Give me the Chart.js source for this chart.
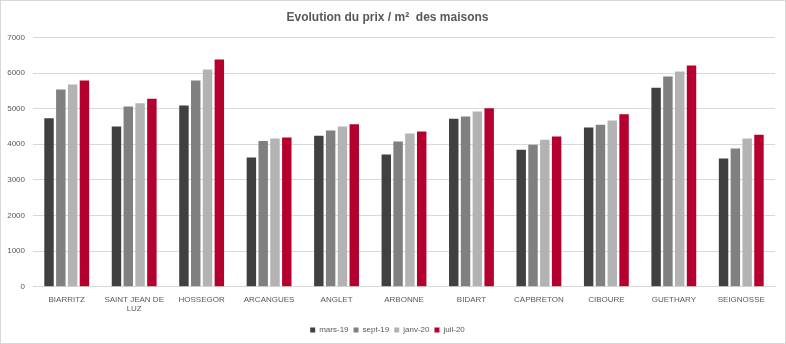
<!DOCTYPE html>
<html>
<head>
<meta charset="utf-8">
<script src="https://cdn.jsdelivr.net/npm/chart.js@4.4.1/dist/chart.umd.min.js"></script>
<style>
  html, body { margin: 0; padding: 0; background: #fff; }
  #wrap { width: 786px; height: 344px; }
</style>
</head>
<body>
<div id="wrap"><canvas id="myChart" width="786" height="344"></canvas></div>
<script>
// villes
const categories = ['BIARRITZ', ['SAINT JEAN DE', 'LUZ'], 'HOSSEGOR', 'ARCANGUES', 'ANGLET', 'ARBONNE',
  'BIDART', 'CAPBRETON', 'CIBOURE', 'GUETHARY', 'SEIGNOSSE']
const periods = ['mars-19', 'sept-19', 'janv-20', 'juil-20']

// prix au m2
const mars19 = [4730, 4500, 5090, 3630, 4240, 3710, 4720, 3850, 4470, 5590, 3600]
const sept19 = [5540, 5060, 5790, 4090, 4390, 4080, 4780, 3990, 4550, 5900, 3880]
const janv20 = [5680, 5150, 6100, 4160, 4500, 4300, 4920, 4130, 4670, 6040, 4160]
const juil20 = [5790, 5280, 6380, 4190, 4560, 4360, 5010, 4220, 4840, 6210, 4270]

const yTicks = [0, 1000, 2000, 3000, 4000, 5000, 6000, 7000]

const colors = ['#404040', '#808080', '#b3b3b3', '#b5002f']
const txt = '#595959'
const font = "'Liberation Sans', Arial, sans-serif"

const frame = {
  id: 'frame',
  beforeDraw(chart) {
    const c = chart.ctx
    c.save()
    c.fillStyle = '#fff'
    c.fillRect(0, 0, chart.width, chart.height)
    c.strokeStyle = '#d9d9d9'
    c.lineWidth = 1
    c.strokeRect(0.5, 0.5, chart.width - 1, chart.height - 1)
    c.restore()
  }
}

const data = {
  labels: categories,
  datasets: [mars19, sept19, janv20, juil20].map((d, i) => ({
    label: periods[i],
    data: d,
    backgroundColor: colors[i],
    categoryPercentage: 0.7,
    barPercentage: 0.8
  }))
}

const config = {
  type: 'bar',
  data: data,
  options: {
    responsive: false,
    animation: false,
    layout: { padding: { left: 0, right: 11, top: 0, bottom: 0 } },
    plugins: {
      title: {
        display: true,
        text: 'Evolution du prix / m²  des maisons',
        color: txt,
        font: { family: font, size: 12, weight: 'bold' },
        padding: { top: 10, bottom: 13 }
      },
      legend: {
        position: 'bottom',
        labels: {
          color: txt,
          font: { family: font, size: 8 },
          boxWidth: 5,
          boxHeight: 5,
          padding: 5
        }
      },
      tooltip: { enabled: false }
    },
    scales: {
      x: {
        afterFit: s => { s.height = s.height + 7 },
        grid: { display: false },
        border: { color: '#d9d9d9' },
        ticks: {
          color: txt,
          font: { family: font, size: 8 },
          maxRotation: 0,
          autoSkip: false,
          padding: 0
        }
      },
      y: {
        min: 0,
        max: 7000,
        afterFit: s => { s.width = 33 },
        afterBuildTicks: s => { s.ticks = yTicks.map(v => ({ value: v })) },
        grid: { color: '#d9d9d9', drawTicks: false },
        border: { display: false },
        ticks: {
          color: txt,
          font: { family: font, size: 8 },
          padding: 8,
          callback: v => String(v)
        }
      }
    }
  },
  plugins: [frame]
}

const myChart = new Chart(document.getElementById('myChart'), config)
</script>
</body>
</html>
